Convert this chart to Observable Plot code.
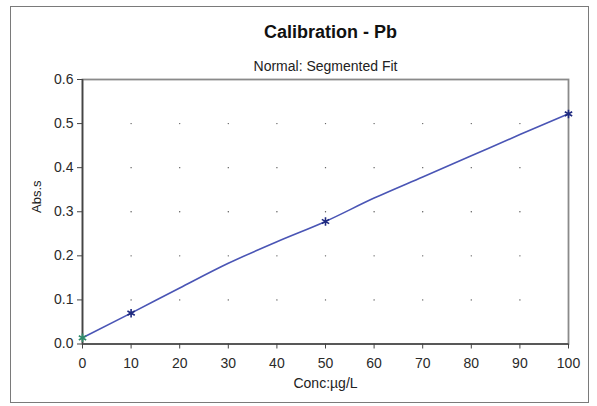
<!DOCTYPE html>
<html>
<head>
<meta charset="utf-8">
<script src="https://cdn.jsdelivr.net/npm/d3@7"></script>
<script src="https://cdn.jsdelivr.net/npm/@observablehq/plot@0.6"></script>
<style>
  html, body { margin: 0; padding: 0; background: #fff; }
  #wrap { position: relative; width: 597px; height: 406px; font-family: "Liberation Sans", Arial, sans-serif; }
  #border { position: absolute; left: 10px; top: 6px; width: 577px; height: 395px; border: 1px solid #7a7a7a; pointer-events: none; }
  #wrap svg { position: absolute; left: 0; top: 0; }
</style>
</head>
<body>
<div id="wrap"><div id="border"></div></div>
<script>
// Standards (measured points)
const stdConc = [0, 10, 50, 100];
const stdAbs = [0.014, 0.070, 0.278, 0.522];
// Segmented fit curve
const fitConc = [0, 10, 20, 30, 40, 50, 60, 70, 80, 90, 100];
const fitAbs = [0.014, 0.070, 0.127, 0.183, 0.232, 0.278, 0.331, 0.379, 0.427, 0.475, 0.522];
// Axis ticks
const xTicks = [0, 10, 20, 30, 40, 50, 60, 70, 80, 90, 100];
const yTicks = [0, 0.1, 0.2, 0.3, 0.4, 0.5, 0.6];
const gridX = [10, 20, 30, 40, 50, 60, 70, 80, 90];
const gridY = [0.1, 0.2, 0.3, 0.4, 0.5];

const title = "Calibration - Pb";
const subtitle = "Normal: Segmented Fit";
const xLabel = "Conc:µg/L";
const yLabel = "Abs.s";

const fit = fitConc.map((c, i) => ({c, a: fitAbs[i]}));
const stds = stdConc.map((c, i) => ({c, a: stdAbs[i], first: i === 0}));
const gridPts = gridX.flatMap(x => gridY.map(y => ({x, y})));

const font = "'Liberation Sans', Arial, sans-serif";
const chart = Plot.plot({
  width: 597,
  height: 406,
  marginLeft: 82,
  marginRight: 29,
  marginTop: 79,
  marginBottom: 62.5,
  style: { fontFamily: font, fontSize: "14px", color: "#2a2a2a", background: "transparent" },
  x: { domain: [0, 100], label: null },
  y: { domain: [0, 0.6], label: null },
  marks: [
    Plot.dot(gridPts, {x: "x", y: "y", r: 0.7, fill: "#555", stroke: null}),
    Plot.frame({stroke: "#8a8a8a", strokeWidth: 1.8}),
    Plot.ruleX([0], {stroke: "#444", strokeWidth: 1.6}),
    Plot.ruleY([0], {stroke: "#444", strokeWidth: 1.6}),
    Plot.axisX({ticks: xTicks, tickSize: 5, tickPadding: 9, tickFormat: d3.format("d"), stroke: "#444", fill: "#2a2a2a", fontSize: 14, label: null}),
    Plot.axisY({ticks: yTicks, tickSize: 5, tickPadding: 4, tickFormat: d3.format(".1f"), stroke: "#444", fill: "#2a2a2a", fontSize: 14, label: null}),
    Plot.line(fit, {x: "c", y: "a", stroke: "#4a55b5", strokeWidth: 1.6, curve: "monotone-x"}),
    Plot.dot(stds, {x: "c", y: "a", symbol: "asterisk", r: 4, stroke: d => d.first ? "#2e8b6a" : "#1f2a80", strokeWidth: 1.6}),
    Plot.text([title], {frameAnchor: "top", lineAnchor: "middle", textAnchor: "middle", dx: 5, dy: -47, fontSize: 18, fontWeight: "bold", fill: "#111"}),
    Plot.text([subtitle], {frameAnchor: "top", lineAnchor: "middle", textAnchor: "middle", dy: -12.5, fontSize: 14, fill: "#222"}),
    Plot.text([xLabel], {frameAnchor: "bottom", lineAnchor: "middle", textAnchor: "middle", dy: 39.5, fontSize: 14, fill: "#222"}),
    Plot.text([yLabel], {frameAnchor: "left", lineAnchor: "middle", textAnchor: "middle", dx: -45.5, dy: -15, rotate: -90, fontSize: 13, fill: "#222"})
  ]
});
document.getElementById("wrap").appendChild(chart);
</script>
</body>
</html>
